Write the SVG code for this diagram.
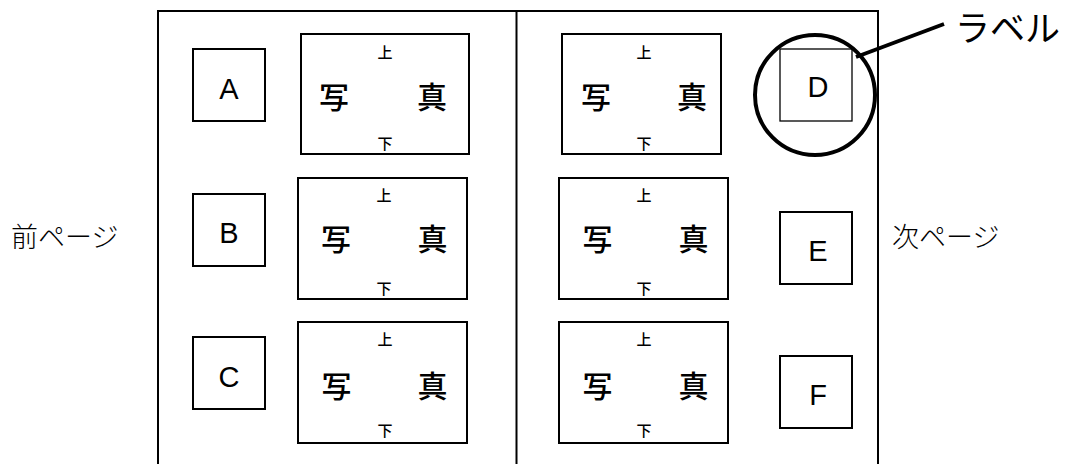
<svg xmlns="http://www.w3.org/2000/svg" width="1072" height="464" viewBox="0 0 1072 464">
<style>
.frame{stroke:#000;stroke-width:2;fill:none}
.box{fill:#fff;stroke:#000;stroke-width:2}
.thin{fill:#fff;stroke:#000;stroke-width:1.3}
.photo{fill:#fff;stroke:#000;stroke-width:2}
.letter{font-family:"Liberation Sans",Arial,sans-serif;font-size:29px;text-anchor:middle;fill:#000}
.kanji{font-family:"Noto Sans CJK JP",sans-serif;font-size:30px;font-weight:500;text-anchor:middle;fill:#000}
.small{font-family:"Noto Sans CJK JP",sans-serif;font-size:15px;font-weight:500;text-anchor:middle;fill:#000}
.side{font-family:"Noto Sans CJK JP",sans-serif;font-size:27px;font-weight:300;fill:#000}
.label{font-family:"Noto Sans CJK JP",sans-serif;font-size:35px;fill:#000}
.callout{fill:none;stroke:#000;stroke-width:4}
.leader{stroke:#000;stroke-width:4;fill:none}
</style>
<rect width="1072" height="464" fill="#fff"/>
<g id="frame">
<path class="frame" d="M158,464 V11 H878 V464 M516.5,11 V464"/>
</g>
<g id="prev-page"><text class="side" x="11" y="247">前ページ</text></g>
<g id="next-page"><text class="side" x="892" y="247">次ページ</text></g>

<g id="box-A"><rect class="box" x="193" y="49" width="72" height="72"/><text class="letter" x="229" y="98.5">A</text></g>
<g id="box-B"><rect class="box" x="193" y="194" width="72" height="72"/><text class="letter" x="229" y="243">B</text></g>
<g id="box-C"><rect class="box" x="193" y="337" width="72" height="72"/><text class="letter" x="229" y="387">C</text></g>
<g id="box-D"><rect class="thin" x="780" y="49" width="72" height="72"/><text class="letter" x="818" y="97">D</text></g>
<g id="box-E"><rect class="box" x="780" y="212" width="72" height="72"/><text class="letter" x="818" y="260.5">E</text></g>
<g id="box-F"><rect class="box" x="780" y="356" width="72" height="72"/><text class="letter" x="818" y="404.5">F</text></g>

<g id="photo-1"><rect class="photo" x="301" y="34" width="168" height="120"/>
<text class="small" x="385" y="57.5">上</text><text class="small" x="385" y="149">下</text>
<text class="kanji" x="334" y="108">写</text><text class="kanji" x="432" y="108">真</text></g>
<g id="photo-2"><rect class="photo" x="298" y="178" width="169" height="121"/>
<text class="small" x="384" y="200.5">上</text><text class="small" x="384" y="293.5">下</text>
<text class="kanji" x="336" y="250">写</text><text class="kanji" x="432.5" y="250">真</text></g>
<g id="photo-3"><rect class="photo" x="298" y="322" width="169" height="121"/>
<text class="small" x="385" y="344.5">上</text><text class="small" x="385" y="435.5">下</text>
<text class="kanji" x="336.5" y="396.5">写</text><text class="kanji" x="432.5" y="396.5">真</text></g>
<g id="photo-4"><rect class="photo" x="562" y="34" width="159" height="120"/>
<text class="small" x="644" y="57.5">上</text><text class="small" x="644" y="149">下</text>
<text class="kanji" x="596" y="108">写</text><text class="kanji" x="692" y="108">真</text></g>
<g id="photo-5"><rect class="photo" x="559" y="178" width="169" height="121"/>
<text class="small" x="644" y="200.5">上</text><text class="small" x="644" y="293.5">下</text>
<text class="kanji" x="597.5" y="250">写</text><text class="kanji" x="693.5" y="250">真</text></g>
<g id="photo-6"><rect class="photo" x="559" y="322" width="169" height="121"/>
<text class="small" x="644" y="344.5">上</text><text class="small" x="644" y="435.5">下</text>
<text class="kanji" x="597.5" y="396.5">写</text><text class="kanji" x="693.5" y="396.5">真</text></g>

<g id="callout-circle"><circle class="callout" cx="815" cy="95" r="60"/></g>
<g id="label"><text class="label" x="955" y="41">ラベル</text></g>
<g id="connectors"><line class="leader" x1="856" y1="57" x2="944" y2="24"/></g>
</svg>
